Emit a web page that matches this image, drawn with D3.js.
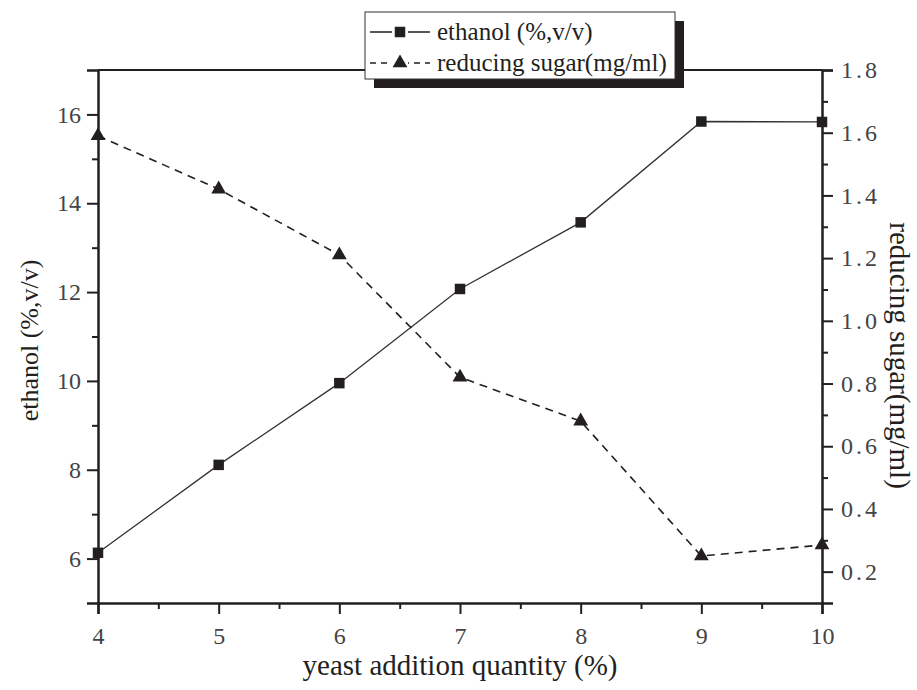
<!DOCTYPE html>
<html>
<head>
<meta charset="utf-8">
<script src="https://cdn.jsdelivr.net/npm/d3@7"></script>
<style>
  body { margin: 0; background: #fff; }
  svg { display: block; }
</style>
</head>
<body>
<svg id="chart" width="917" height="690"></svg>
<script>
// data
const yeastQty = [4, 5, 6, 7, 8, 9, 10];
const ethanolVals = [6.13, 8.11, 9.95, 12.07, 13.57, 15.84, 15.83];
const sugarVals = [1.59, 1.42, 1.21, 0.82, 0.68, 0.25, 0.285];
const xTicks = [4, 5, 6, 7, 8, 9, 10];
const leftTicks = [6, 8, 10, 12, 14, 16];
const rightTicks = [0.2, 0.4, 0.6, 0.8, 1.0, 1.2, 1.4, 1.6, 1.8];
const seriesNames = ['ethanol (%,v/v)', 'reducing sugar(mg/ml)'];

const width = 917, height = 690;
const margin = { top: 70, right: 95, bottom: 87, left: 98 };
const innerW = width - margin.left - margin.right;
const innerH = height - margin.top - margin.bottom;
const serif = '"Liberation Serif", "Times New Roman", serif';
const ink = '#231f20';

const svg = d3.select('#chart');
const g = svg.append('g').attr('transform', `translate(${margin.left},${margin.top})`);

// scales
const x = d3.scaleLinear().domain([4, 10]).range([0, innerW]);
const yL = d3.scaleLinear().domain([5, 17]).range([innerH, 0]);
const yR = d3.scaleLinear().domain([0.1, 1.8]).range([innerH, 0]);

// minor ticks first (no labels)
function minorAxis(axisFn, scale, vals, size, transform) {
    const a = g.append('g').attr('transform', transform || null)
        .call(axisFn(scale).tickValues(vals).tickSize(size).tickFormat(''));
    a.select('.domain').remove();
    a.selectAll('.tick line').attr('stroke', ink).attr('stroke-width', 2);
}
minorAxis(d3.axisBottom, x, d3.range(4.5, 10, 1), 6, `translate(0,${innerH})`);
minorAxis(d3.axisLeft, yL, d3.range(7, 17, 2), 6);
minorAxis(d3.axisRight, yR, d3.range(0.3, 1.8, 0.2), 6, `translate(${innerW},0)`);

// major axes
const xAxis = g.append('g').attr('transform', `translate(0,${innerH})`)
    .call(d3.axisBottom(x).tickValues(xTicks).tickSize(11).tickPadding(8).tickFormat(d3.format('d')));
const lAxis = g.append('g')
    .call(d3.axisLeft(yL).tickValues(leftTicks).tickSize(11).tickPadding(6).tickFormat(d3.format('d')));
const rAxis = g.append('g').attr('transform', `translate(${innerW},0)`)
    .call(d3.axisRight(yR).tickValues(rightTicks).tickSize(11).tickPadding(8).tickFormat(d3.format('.1f')));

[xAxis, lAxis, rAxis].forEach(a => {
    a.select('.domain').attr('stroke', ink).attr('stroke-width', 2.5);
    a.selectAll('.tick line').attr('stroke', ink).attr('stroke-width', 2);
    a.selectAll('.tick text')
        .attr('fill', '#444')
        .style('font-family', serif)
        .style('font-size', '24px');
});
rAxis.selectAll('.tick text').style('letter-spacing', '3px');
xAxis.selectAll('.tick text').attr('dy', '0.9em');

// top frame line
g.append('line')
    .attr('x1', 0).attr('x2', innerW).attr('y1', 0).attr('y2', 0)
    .attr('stroke', ink).attr('stroke-width', 2);

// ethanol series
const ethPts = yeastQty.map((d, i) => [x(d), yL(ethanolVals[i])]);
g.append('path')
    .attr('d', d3.line()(ethPts))
    .attr('fill', 'none').attr('stroke', '#333').attr('stroke-width', 1.3);

// reducing sugar series
const sugPts = yeastQty.map((d, i) => [x(d), yR(sugarVals[i])]);
g.append('path')
    .attr('d', d3.line()(sugPts))
    .attr('fill', 'none').attr('stroke', ink).attr('stroke-width', 1.6)
    .attr('stroke-dasharray', '8,6');

const square = d3.symbol().type(d3.symbolSquare).size(110);
const triangle = d3.symbol().type(d3.symbolTriangle).size(95);

g.selectAll('.sq').data(ethPts).enter().append('path')
    .attr('class', 'sq')
    .attr('d', square)
    .attr('transform', d => `translate(${d[0]},${d[1]})`)
    .attr('fill', ink);

g.selectAll('.tri').data(sugPts).enter().append('path')
    .attr('class', 'tri')
    .attr('d', triangle)
    .attr('transform', d => `translate(${d[0]},${d[1]})`)
    .attr('fill', ink);

// axis titles
svg.append('text')
    .attr('x', margin.left + innerW / 2).attr('y', 675)
    .attr('text-anchor', 'middle')
    .style('font-family', serif).style('font-size', '29px').attr('fill', ink)
    .text('yeast addition quantity (%)');

svg.append('text')
    .attr('transform', `translate(38,${margin.top + innerH / 2 + 4}) rotate(-90)`)
    .attr('text-anchor', 'middle')
    .style('font-family', serif).style('font-size', '26px').attr('fill', ink)
    .text(seriesNames[0]);

svg.append('text')
    .attr('transform', `translate(890,${margin.top + innerH / 2 + 19}) rotate(90)`)
    .attr('text-anchor', 'middle')
    .style('font-family', serif).style('font-size', '29px').attr('fill', ink)
    .text(seriesNames[1]);

// legend with drop shadow
const leg = svg.append('g').attr('transform', 'translate(365,12)');
leg.append('rect').attr('x', 9).attr('y', 9).attr('width', 310).attr('height', 67).attr('fill', ink);
leg.append('rect').attr('x', 0).attr('y', 0).attr('width', 310).attr('height', 67)
    .attr('fill', '#fff').attr('stroke', '#333').attr('stroke-width', 1);

const rows = [
    { name: seriesNames[0], dash: null, sym: square, cy: 20 },
    { name: seriesNames[1], dash: '6,5', sym: triangle, cy: 51 }
];
rows.forEach(r => {
    leg.append('line')
        .attr('x1', 5).attr('x2', 65).attr('y1', r.cy).attr('y2', r.cy)
        .attr('stroke', ink).attr('stroke-width', 1.3)
        .attr('stroke-dasharray', r.dash);
    leg.append('rect')
        .attr('x', 27).attr('y', r.cy - 8).attr('width', 16).attr('height', 16)
        .attr('fill', '#fff');
    leg.append('path').attr('d', r.sym).attr('transform', `translate(35,${r.cy})`).attr('fill', ink);
    leg.append('text')
        .attr('x', 72).attr('y', r.cy).attr('dy', '0.33em')
        .style('font-family', serif).style('font-size', '25px').attr('fill', ink)
        .text(r.name);
});
</script>
</body>
</html>
